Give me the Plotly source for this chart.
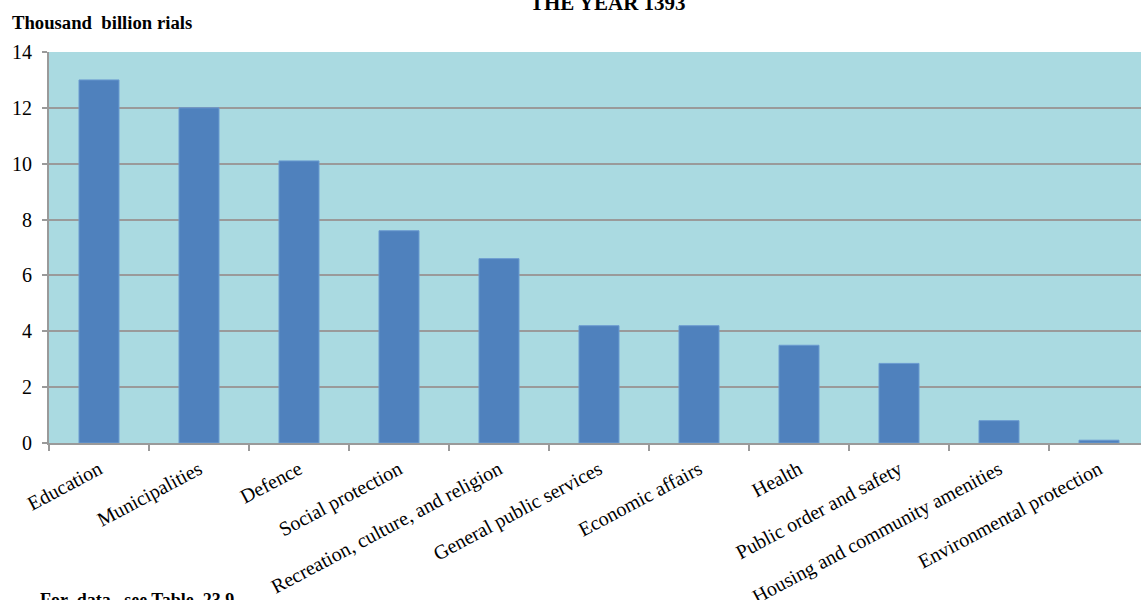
import plotly.graph_objects as go

categories = ["Education", "Municipalities", "Defence", "Social protection",
              "Recreation, culture, and religion", "General public services",
              "Economic affairs", "Health", "Public order and safety",
              "Housing and community amenities", "Environmental protection"]
values = [13.0, 12.0, 10.1, 7.6, 6.6, 4.2, 4.2, 3.5, 2.85, 0.8, 0.1]
y_ticks = [0, 2, 4, 6, 8, 10, 12, 14]

FONT = "Liberation Serif"
PL, PT, PB = 49, 52, 443
PW, PH = 1141 - PL, PB - PT

fig = go.Figure(go.Bar(
    x=categories, y=values,
    marker=dict(color="#4F81BD", line=dict(color="#6A9AD0", width=1)),
    width=0.4,
))

fig.update_layout(
    width=1141, height=600,
    margin=dict(l=PL, r=0, t=PT, b=600 - PB, autoexpand=False),
    paper_bgcolor="white",
    plot_bgcolor="#AADAE1",
    showlegend=False,
    font=dict(family=FONT, color="black"),
    xaxis=dict(
        range=[-0.5, 10.42],
        automargin=False,
        tickangle=-28,
        tickfont=dict(family=FONT, size=20, color="black"),
        ticks="outside", tickson="boundaries", ticklen=6,
        tickcolor="#9a9a9a", tickwidth=2,
        ticklabelstandoff=5,
        ticklabeloverflow="allow",
        showline=True, linecolor="#9a9a9a", linewidth=2,
        showgrid=False,
    ),
    yaxis=dict(
        range=[0, 14],
        automargin=False,
        tickvals=y_ticks,
        tickfont=dict(family=FONT, size=20, color="black"),
        ticks="outside", ticklen=5, tickcolor="#9a9a9a", tickwidth=2,
        ticklabelstandoff=6,
        showline=True, linecolor="#9a9a9a", linewidth=2,
        showgrid=True, gridcolor="#9a9a9a", gridwidth=2,
        zeroline=False,
    ),
    annotations=[
        dict(text="<b>THE YEAR 1393</b>", xref="paper", yref="paper",
             x=(608 - PL) / PW, y=(PB - 3) / PH, xanchor="center", yanchor="middle",
             showarrow=False, font=dict(family=FONT, size=21, color="black")),
        dict(text="<b>Thousand  billion rials</b>", xref="paper", yref="paper",
             x=(10 - PL) / PW, y=(PB - 22) / PH, xanchor="left", yanchor="middle",
             showarrow=False, font=dict(family=FONT, size=18.7, color="black")),
        dict(text="<b>For  data,  see Table  23.9</b>", xref="paper", yref="paper",
             x=(38 - PL) / PW, y=(PB - 600) / PH, xanchor="left", yanchor="middle",
             showarrow=False, font=dict(family=FONT, size=18, color="black")),
    ],
)

fig.write_html("out.html", config={"displayModeBar": False},
               post_script="document.body.style.margin='0';document.body.style.overflow='hidden';")
